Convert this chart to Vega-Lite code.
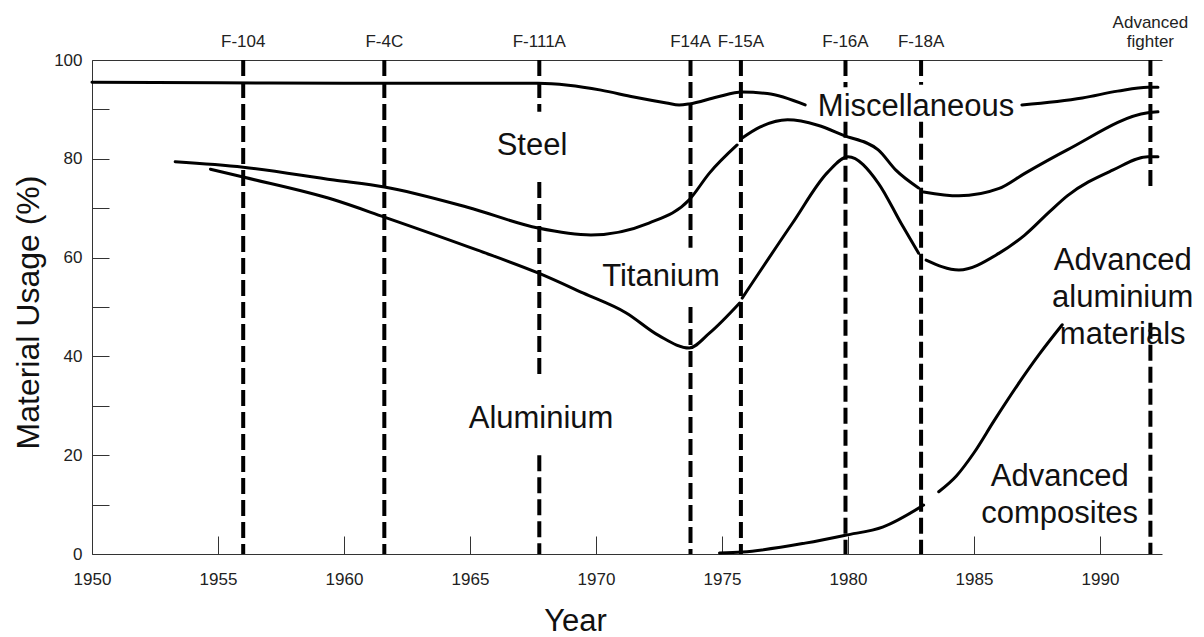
{
  "$schema": "https://vega.github.io/schema/vega-lite/v6.json",
  "width": 1070,
  "height": 494,
  "autosize": {"type": "none"},
  "padding": {"left": 92, "top": 60, "right": 42, "bottom": 83},
  "background": "white",
  "config": {"view": {"stroke": null}, "font": "Liberation Sans"},
  "datasets": {
    "aircraft": [
      {"name": "F-104", "year": 1956.0},
      {"name": "F-4C", "year": 1961.6},
      {"name": "F-111A", "year": 1967.75},
      {"name": "F14A", "year": 1973.75},
      {"name": "F-15A", "year": 1975.75},
      {"name": "F-16A", "year": 1979.9},
      {"name": "F-18A", "year": 1982.9},
      {"name": "Advanced\nfighter", "year": 1992.0}
    ],
    "segments": [
      {"craft": "F-104", "year": 1956.0, "from": 100, "to": 0},
      {"craft": "F-4C", "year": 1961.6, "from": 100, "to": 0},
      {"craft": "F-111A", "year": 1967.75, "from": 100, "to": 89.5},
      {"craft": "F-111A", "year": 1967.75, "from": 75.3, "to": 35.5},
      {"craft": "F-111A", "year": 1967.75, "from": 20, "to": 0},
      {"craft": "F14A", "year": 1973.75, "from": 100, "to": 62},
      {"craft": "F14A", "year": 1973.75, "from": 50, "to": 0},
      {"craft": "F-15A", "year": 1975.75, "from": 100, "to": 0},
      {"craft": "F-16A", "year": 1979.9, "from": 100, "to": 94.5},
      {"craft": "F-16A", "year": 1979.9, "from": 87.5, "to": 0},
      {"craft": "F-18A", "year": 1982.9, "from": 100, "to": 95},
      {"craft": "F-18A", "year": 1982.9, "from": 87.5, "to": 0},
      {"craft": "Advanced fighter", "year": 1992.0, "from": 100, "to": 74},
      {"craft": "Advanced fighter", "year": 1992.0, "from": 46.8, "to": 0}
    ],
    "curves": [
      {"seg": "misc-1", "year": 1950.0, "value": 95.5},
      {"seg": "misc-1", "year": 1955.0, "value": 95.4},
      {"seg": "misc-1", "year": 1960.0, "value": 95.3},
      {"seg": "misc-1", "year": 1965.0, "value": 95.3},
      {"seg": "misc-1", "year": 1967.7, "value": 95.3},
      {"seg": "misc-1", "year": 1968.9, "value": 94.9},
      {"seg": "misc-1", "year": 1970.2, "value": 93.9},
      {"seg": "misc-1", "year": 1971.5, "value": 92.5},
      {"seg": "misc-1", "year": 1972.8, "value": 91.3},
      {"seg": "misc-1", "year": 1973.3, "value": 90.9},
      {"seg": "misc-1", "year": 1973.7, "value": 91.1},
      {"seg": "misc-1", "year": 1974.8, "value": 92.5},
      {"seg": "misc-1", "year": 1975.8, "value": 93.5},
      {"seg": "misc-1", "year": 1976.8, "value": 93.2},
      {"seg": "misc-1", "year": 1978.3, "value": 90.9},
      {"seg": "misc-2", "year": 1986.9, "value": 90.9},
      {"seg": "misc-2", "year": 1989.3, "value": 92.3},
      {"seg": "misc-2", "year": 1990.7, "value": 93.7},
      {"seg": "misc-2", "year": 1991.9, "value": 94.5},
      {"seg": "misc-2", "year": 1992.3, "value": 94.5},
      {"seg": "st-1", "year": 1953.3, "value": 79.4},
      {"seg": "st-1", "year": 1956.0, "value": 78.3},
      {"seg": "st-1", "year": 1959.6, "value": 75.7},
      {"seg": "st-1", "year": 1961.6, "value": 74.3},
      {"seg": "st-1", "year": 1964.9, "value": 70.2},
      {"seg": "st-1", "year": 1967.7, "value": 66.0},
      {"seg": "st-1", "year": 1969.8, "value": 64.6},
      {"seg": "st-1", "year": 1972.1, "value": 67.0},
      {"seg": "st-1", "year": 1973.7, "value": 71.7},
      {"seg": "st-1", "year": 1974.5, "value": 77.1},
      {"seg": "st-1", "year": 1975.6, "value": 82.8},
      {"seg": "st-2", "year": 1975.8, "value": 84.2},
      {"seg": "st-2", "year": 1976.5, "value": 86.4},
      {"seg": "st-2", "year": 1977.6, "value": 87.9},
      {"seg": "st-2", "year": 1978.8, "value": 86.8},
      {"seg": "st-2", "year": 1979.8, "value": 84.8},
      {"seg": "st-2", "year": 1981.2, "value": 81.8},
      {"seg": "st-2", "year": 1981.9, "value": 77.7},
      {"seg": "st-2", "year": 1982.8, "value": 74.1},
      {"seg": "st-3", "year": 1983.0, "value": 73.3},
      {"seg": "st-3", "year": 1984.4, "value": 72.5},
      {"seg": "st-3", "year": 1986.0, "value": 74.0},
      {"seg": "st-3", "year": 1987.0, "value": 77.0},
      {"seg": "st-3", "year": 1988.7, "value": 81.8},
      {"seg": "st-3", "year": 1991.9, "value": 89.3},
      {"seg": "st-3", "year": 1992.3, "value": 89.5},
      {"seg": "ta-1", "year": 1954.7, "value": 77.9},
      {"seg": "ta-1", "year": 1956.0, "value": 76.3},
      {"seg": "ta-1", "year": 1959.6, "value": 71.7},
      {"seg": "ta-1", "year": 1961.6, "value": 68.2},
      {"seg": "ta-1", "year": 1965.3, "value": 61.5},
      {"seg": "ta-1", "year": 1967.7, "value": 56.9},
      {"seg": "ta-1", "year": 1969.5, "value": 52.8},
      {"seg": "ta-1", "year": 1971.2, "value": 48.8},
      {"seg": "ta-1", "year": 1972.5, "value": 44.2},
      {"seg": "ta-1", "year": 1973.7, "value": 41.7},
      {"seg": "ta-1", "year": 1974.5, "value": 44.7},
      {"seg": "ta-1", "year": 1975.7, "value": 50.8},
      {"seg": "ta-2", "year": 1975.8, "value": 51.8},
      {"seg": "ta-2", "year": 1977.8, "value": 67.0},
      {"seg": "ta-2", "year": 1979.2, "value": 77.3},
      {"seg": "ta-2", "year": 1980.0, "value": 80.4},
      {"seg": "ta-2", "year": 1981.2, "value": 75.1},
      {"seg": "ta-2", "year": 1982.1, "value": 67.0},
      {"seg": "ta-2", "year": 1982.8, "value": 60.9},
      {"seg": "ta-3", "year": 1983.1, "value": 59.5},
      {"seg": "ta-3", "year": 1984.4, "value": 57.5},
      {"seg": "ta-3", "year": 1986.0, "value": 60.9},
      {"seg": "ta-3", "year": 1987.0, "value": 64.5},
      {"seg": "ta-3", "year": 1988.0, "value": 69.3},
      {"seg": "ta-3", "year": 1988.7, "value": 72.5},
      {"seg": "ta-3", "year": 1990.5, "value": 77.7},
      {"seg": "ta-3", "year": 1991.9, "value": 80.4},
      {"seg": "ta-3", "year": 1992.3, "value": 80.4},
      {"seg": "comp-1", "year": 1974.9, "value": 0.2},
      {"seg": "comp-1", "year": 1975.8, "value": 0.4},
      {"seg": "comp-1", "year": 1978.3, "value": 2.2},
      {"seg": "comp-1", "year": 1979.9, "value": 3.8},
      {"seg": "comp-1", "year": 1981.4, "value": 5.5},
      {"seg": "comp-1", "year": 1983.0, "value": 9.9},
      {"seg": "comp-2", "year": 1983.6, "value": 12.6},
      {"seg": "comp-2", "year": 1984.3, "value": 15.8},
      {"seg": "comp-2", "year": 1985.0, "value": 20.5},
      {"seg": "comp-2", "year": 1985.8, "value": 27.0},
      {"seg": "comp-2", "year": 1986.7, "value": 34.0},
      {"seg": "comp-2", "year": 1987.6, "value": 40.5},
      {"seg": "comp-2", "year": 1988.5, "value": 46.4}
    ],
    "labels": [
      {"label": "Steel", "year": 1967.46, "value": 82.6},
      {"label": "Miscellaneous", "year": 1982.7, "value": 90.5},
      {"label": "Titanium", "year": 1972.58, "value": 56.1},
      {"label": "Aluminium", "year": 1967.82, "value": 27.3},
      {"label": "Advanced\naluminium\nmaterials", "year": 1990.9, "value": 59.3},
      {"label": "Advanced\ncomposites", "year": 1988.4, "value": 15.6}
    ]
  },
  "layer": [
    {
      "data": {"name": "segments"},
      "mark": {"type": "rule", "color": "#000", "strokeWidth": 4, "strokeDash": [16, 6]},
      "encoding": {
        "x": {
          "field": "year", "type": "quantitative",
          "scale": {"domain": [1950, 1992.46], "nice": false, "zero": false},
          "axis": {
            "orient": "bottom", "title": "Year", "values": [1950, 1955, 1960, 1965, 1970, 1975, 1980, 1985, 1990],
            "format": "d", "grid": false, "tickSize": -18, "labelPadding": 35, "labelFlush": false, "labelOverlap": false,
            "labelFontSize": 17, "labelColor": "#222", "labelFont": "Liberation Sans",
            "domainColor": "#333", "tickColor": "#333", "domainWidth": 1, "tickWidth": 1,
            "titleFontSize": 31, "titleFontWeight": "normal", "titleFont": "Liberation Sans", "titleColor": "#111",
            "titleX": 483, "titleY": 76, "titleAlign": "center", "titleBaseline": "alphabetic", "titleAngle": 0
          }
        },
        "y": {
          "field": "from", "type": "quantitative",
          "scale": {"domain": [0, 100], "nice": false},
          "axis": {
            "orient": "left", "title": "Material Usage (%)", "values": [0, 10, 20, 30, 40, 50, 60, 70, 80, 90, 100],
            "labelExpr": "datum.value % 20 === 0 ? datum.label : ''",
            "grid": false, "tickSize": -17, "labelPadding": 27, "labelOverlap": false,
            "labelFontSize": 17, "labelColor": "#222", "labelFont": "Liberation Sans",
            "domainColor": "#333", "tickColor": "#333", "domainWidth": 1, "tickWidth": 1,
            "titleFontSize": 32, "titleFontWeight": "normal", "titleFont": "Liberation Sans", "titleColor": "#111",
            "titleX": -54, "titleY": 252, "titleAlign": "center", "titleBaseline": "alphabetic", "titleAngle": 270
          }
        },
        "y2": {"field": "to"}
      }
    },
    {
      "data": {"name": "aircraft"},
      "transform": [{"filter": "indexof(datum.name, '\\n') < 0"}],
      "mark": {"type": "text", "fontSize": 17, "font": "Liberation Sans", "color": "#222", "align": "center", "baseline": "bottom", "dy": -9},
      "encoding": {
        "x": {
          "field": "year", "type": "quantitative",
          "scale": {"domain": [1950, 1992.46], "nice": false, "zero": false},
          "axis": {"orient": "top", "title": null, "labels": false, "ticks": false, "grid": false, "domain": true, "domainColor": "#333", "domainWidth": 1}
        },
        "y": {"datum": 100, "type": "quantitative", "scale": {"domain": [0, 100], "nice": false}, "axis": null},
        "text": {"field": "name"}
      }
    },
    {
      "data": {"name": "aircraft"},
      "transform": [{"filter": "indexof(datum.name, '\\n') >= 0"}],
      "mark": {"type": "text", "fontSize": 17, "font": "Liberation Sans", "color": "#222", "align": "center", "baseline": "bottom", "dy": -28, "lineBreak": "\n", "lineHeight": 19},
      "encoding": {
        "x": {"field": "year", "type": "quantitative", "scale": {"domain": [1950, 1992.46], "nice": false, "zero": false}, "axis": null},
        "y": {"datum": 100, "type": "quantitative", "scale": {"domain": [0, 100], "nice": false}, "axis": null},
        "text": {"field": "name"}
      }
    },
    {
      "data": {"name": "curves"},
      "mark": {"type": "line", "color": "#000", "strokeWidth": 3, "interpolate": "monotone", "strokeJoin": "round", "strokeCap": "round"},
      "encoding": {
        "x": {"field": "year", "type": "quantitative", "scale": {"domain": [1950, 1992.46], "nice": false, "zero": false}, "axis": null},
        "y": {"field": "value", "type": "quantitative", "scale": {"domain": [0, 100], "nice": false}, "axis": null},
        "detail": {"field": "seg"}
      }
    },
    {
      "data": {"name": "labels"},
      "mark": {"type": "text", "fontSize": 31, "font": "Liberation Sans", "color": "#111", "align": "center", "baseline": "middle", "lineBreak": "\n", "lineHeight": 37},
      "encoding": {
        "x": {"field": "year", "type": "quantitative", "scale": {"domain": [1950, 1992.46], "nice": false, "zero": false}, "axis": null},
        "y": {"field": "value", "type": "quantitative", "scale": {"domain": [0, 100], "nice": false}, "axis": null},
        "text": {"field": "label"}
      }
    }
  ],
  "resolve": {"axis": {"x": "independent", "y": "independent"}}
}
